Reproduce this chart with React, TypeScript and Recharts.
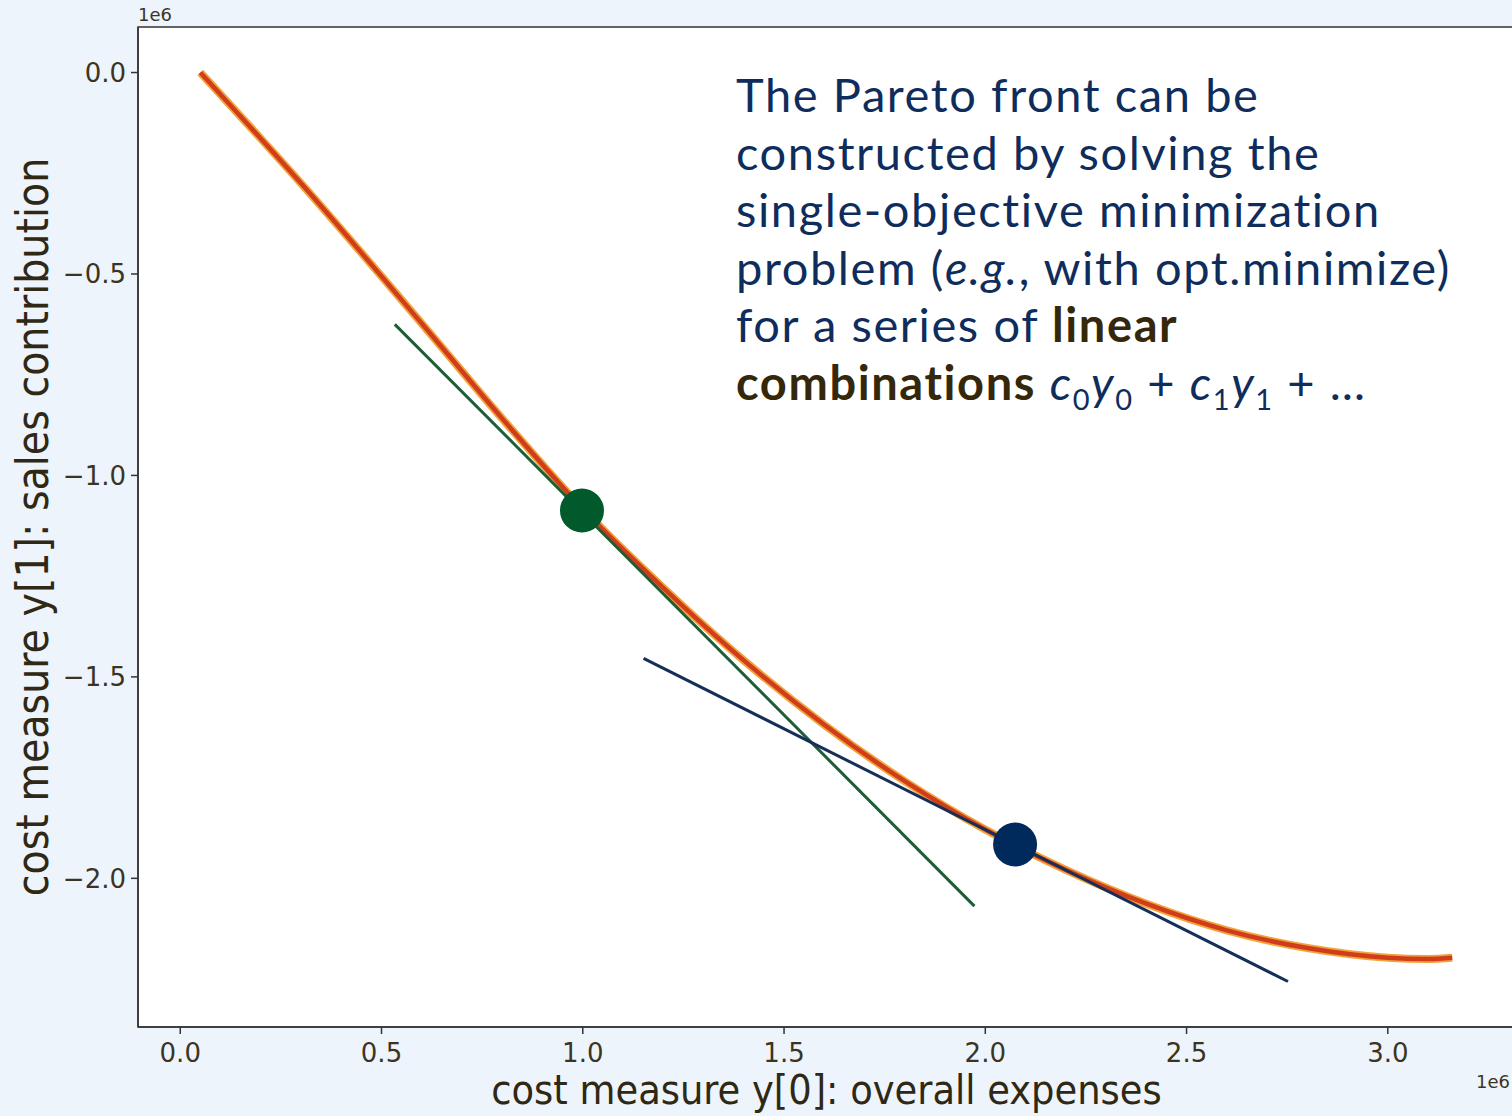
import React from "react";
import {
  ComposedChart,
  Line,
  Scatter,
  XAxis,
  YAxis,
  CartesianGrid,
  ReferenceArea,
  Label,
} from "recharts";

// Pareto front (x 1e6, y 1e6)
const frontX = [0.05, 0.3, 0.6, 0.8, 1.0, 1.2, 1.4, 1.6, 1.8, 2.0, 2.2, 2.4, 2.6, 2.8, 3.0, 3.1, 3.16];
const frontY = [0.0, -0.275, -0.623, -0.859, -1.083, -1.279, -1.459, -1.619, -1.759, -1.879, -1.979, -2.063, -2.129, -2.173, -2.197, -2.2, -2.197];

// tangent lines (start / end points)
const greenLineX = [0.533, 1.973];
const greenLineY = [-0.625, -2.069];
const blueLineX = [1.151, 2.752];
const blueLineY = [-1.454, -2.256];

// solutions of the two weighted problems
const greenPtX = [0.998];
const greenPtY = [-1.087];
const bluePtX = [2.074];
const bluePtY = [-1.916];

const xTicks = [0, 0.5, 1.0, 1.5, 2.0, 2.5, 3.0];
const yTicks = [0, -0.5, -1.0, -1.5, -2.0];

const xDomain = [-0.105, 3.316];
const yDomain = [-2.369, 0.113];

const zip = (xs: number[], ys: number[]) => xs.map((x, i) => ({ x, y: ys[i] }));

const frontData = zip(frontX, frontY);
const greenLine = zip(greenLineX, greenLineY);
const blueLine = zip(blueLineX, blueLineY);
const greenPt = zip(greenPtX, greenPtY);
const bluePt = zip(bluePtX, bluePtY);

const tickColor = "#3b3422";
const tickFont = { fontFamily: "DejaVu Sans", fontSize: 26, fill: tickColor };
const fmt = (v: number) => (v < 0 ? "\u2212" : "") + Math.abs(v).toFixed(1);

const dot = (color: string) => (p: any) => (
  <circle cx={p.cx} cy={p.cy} r={22} fill={color} />
);

const navy = "#0f2d5c";
const brown = "#35280a";
const subStyle = { fontSize: 29 };

export default function App() {
  return (
    <div
      style={{
        position: "absolute",
        left: 0,
        top: 0,
        width: 1512,
        height: 1116,
        overflow: "hidden",
        background: "#eef4fb",
      }}
    >
      <ComposedChart
        width={1516}
        height={1116}
        margin={{ top: 27, right: 1, bottom: 0, left: 0 }}
      >
        <CartesianGrid horizontal={false} vertical={false} fill="#ffffff" />
        <XAxis
          type="number"
          dataKey="x"
          domain={xDomain}
          allowDataOverflow
          ticks={xTicks}
          tickFormatter={fmt}
          tick={tickFont}
          tickSize={7}
          tickMargin={10}
          height={89}
          stroke="#333333"
          strokeWidth={1.5}
        >
          <Label
            value="cost measure y[0]: overall expenses"
            position="insideBottom"
            offset={12}
            style={{ fontFamily: "DejaVu Sans Condensed", fontSize: 41, fill: "#2e2814" }}
          />
        </XAxis>
        <YAxis
          type="number"
          dataKey="y"
          domain={yDomain}
          allowDataOverflow
          ticks={yTicks}
          tickFormatter={fmt}
          tick={tickFont}
          tickSize={7}
          tickMargin={5}
          width={138}
          stroke="#333333"
          strokeWidth={1.5}
        >
          <Label
            value="cost measure y[1]: sales contribution"
            angle={-90}
            position="insideLeft"
            offset={32}
            style={{ fontFamily: "DejaVu Sans Condensed", fontSize: 44, fill: "#2e2814", textAnchor: "middle" }}
          />
        </YAxis>
        <ReferenceArea
          x1={xDomain[0]}
          x2={xDomain[1]}
          y1={yDomain[0]}
          y2={yDomain[1]}
          fill="none"
          stroke="#333333"
          strokeWidth={1.5}
        />
        <Line
          data={frontData}
          dataKey="y"
          type="monotone"
          stroke="#f2a33a"
          strokeWidth={8}
          dot={false}
          isAnimationActive={false}
        />
        <Line
          data={frontData}
          dataKey="y"
          type="monotone"
          stroke="#cf3d1a"
          strokeWidth={4.5}
          dot={false}
          isAnimationActive={false}
        />
        <Line
          data={greenLine}
          dataKey="y"
          stroke="#1d5e38"
          strokeWidth={3}
          dot={false}
          isAnimationActive={false}
        />
        <Line
          data={blueLine}
          dataKey="y"
          stroke="#162f58"
          strokeWidth={3}
          dot={false}
          isAnimationActive={false}
        />
        <Scatter data={greenPt} dataKey="y" shape={dot("#005a2b")} isAnimationActive={false} />
        <Scatter data={bluePt} dataKey="y" shape={dot("#002a5c")} isAnimationActive={false} />
      </ComposedChart>

      <div style={{ position: "absolute", left: 138, top: 4, fontFamily: "DejaVu Sans", fontSize: 18, color: tickColor }}>
        1e6
      </div>
      <div style={{ position: "absolute", left: 1476, top: 1071, fontFamily: "DejaVu Sans", fontSize: 18, color: tickColor }}>
        1e6
      </div>

      <div
        style={{
          position: "absolute",
          left: 736,
          top: 66,
          fontFamily: "Lato",
          fontSize: 47,
          letterSpacing: 1.6,
          fontVariantLigatures: "none",
          lineHeight: "57.6px",
          color: navy,
          whiteSpace: "nowrap",
        }}
      >
        <div>The Pareto front can be</div>
        <div>constructed by solving the</div>
        <div>single-objective minimization</div>
        <div>
          problem (<i>e.g.</i>, with opt.minimize)
        </div>
        <div>
          for a series of <b style={{ color: brown }}>linear</b>
        </div>
        <div>
          <b style={{ color: brown }}>combinations</b> <i>c</i>
          <sub style={subStyle}>0</sub>
          <i>y</i>
          <sub style={subStyle}>0</sub> + <i>c</i>
          <sub style={subStyle}>1</sub>
          <i>y</i>
          <sub style={subStyle}>1</sub> + …
        </div>
      </div>
    </div>
  );
}
